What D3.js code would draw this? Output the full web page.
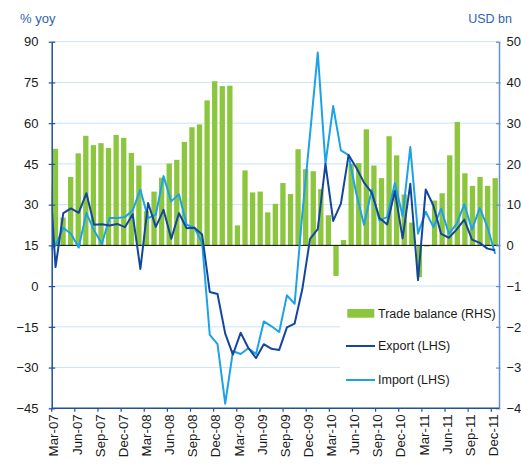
<!DOCTYPE html>
<html>
<head>
<meta charset="utf-8">
<script src="https://cdn.jsdelivr.net/npm/d3@7"></script>
<style>
body{margin:0;background:#fff;}
text{font-family:"Liberation Sans",Arial,sans-serif;}
</style>
</head>
<body>
<script>
// monthly categories, Feb-07 .. Dec-11
var months = ["Feb-07","Mar-07","Apr-07","May-07","Jun-07","Jul-07","Aug-07","Sep-07","Oct-07","Nov-07","Dec-07",
	"Jan-08","Feb-08","Mar-08","Apr-08","May-08","Jun-08","Jul-08","Aug-08","Sep-08","Oct-08","Nov-08","Dec-08",
	"Jan-09","Feb-09","Mar-09","Apr-09","May-09","Jun-09","Jul-09","Aug-09","Sep-09","Oct-09","Nov-09","Dec-09",
	"Jan-10","Feb-10","Mar-10","Apr-10","May-10","Jun-10","Jul-10","Aug-10","Sep-10","Oct-10","Nov-10","Dec-10",
	"Jan-11","Feb-11","Mar-11","Apr-11","May-11","Jun-11","Jul-11","Aug-11","Sep-11","Oct-11","Nov-11","Dec-11"];
var tickLabels = ["Mar-07","Jun-07","Sep-07","Dec-07","Mar-08","Jun-08","Sep-08","Dec-08","Mar-09","Jun-09",
	"Sep-09","Dec-09","Mar-10","Jun-10","Sep-10","Dec-10","Mar-11","Jun-11","Sep-11","Dec-11"];
// trade balance, USD bn (RHS)
var balance = [23.7,6.8,16.8,22.6,26.9,24.6,25.1,23.9,27.1,26.4,22.7,
	19.6,8.4,13.2,16.6,20.1,21.0,25.4,29.0,29.7,35.6,40.3,39.1,
	39.2,4.9,18.4,13.0,13.2,8.1,10.2,15.3,12.6,23.6,18.7,18.2,
	13.8,7.4,-7.5,1.3,20.0,20.2,28.5,19.6,16.5,26.8,22.1,12.5,
	5.6,-7.8,-0.3,11.0,12.8,22.1,30.3,17.7,14.6,16.8,14.6,16.5];
// export, % yoy (LHS)
var exportYoy = [51.7,7.0,26.9,28.6,27.0,34.2,22.6,22.8,22.3,22.9,21.7,
	26.5,6.3,30.6,21.8,28.1,17.4,26.8,21.3,21.5,19.0,-2.2,-2.9,
	-17.5,-25.2,-17.2,-22.8,-26.5,-21.4,-23.1,-23.5,-15.2,-13.8,-1.1,17.4,
	21.0,45.0,24.0,30.4,48.3,43.6,38.1,34.4,25.1,22.7,35.0,17.6,
	37.7,2.2,35.6,29.6,19.2,17.8,20.8,24.5,17.1,15.9,13.8,13.2];
// import, % yoy (LHS)
var importYoy = [12.5,15.0,21.4,19.3,14.2,26.9,20.5,15.6,25.1,25.1,25.4,
	27.9,35.5,25.0,26.3,40.5,31.2,33.8,22.6,21.5,16.0,-18.0,-21.4,
	-43.3,-24.0,-25.0,-22.9,-25.0,-13.0,-14.8,-16.9,-3.4,-6.5,26.8,56.0,
	86.0,45.0,66.3,50.0,48.2,34.0,22.6,35.4,24.2,25.4,38.0,25.8,
	51.2,19.3,27.4,21.7,28.5,19.3,22.9,30.1,20.8,28.7,21.8,11.9];

var width = 521, height = 464;
var plotL = 51.7, plotR = 499, plotT = 41.7, plotB = 408.3;
var green = "#8cc63f", darkBlue = "#14469a", lightBlue = "#1ea2e6";
var axisBlue = "#1f4f9e", axisBlueR = "#6390cc", titleBlue = "#2e63b0";

var svg = d3.select("body").append("svg")
	.attr("width", width)
	.attr("height", height);

var yL = d3.scaleLinear().domain([-45, 90]).range([plotB, plotT]);
var yR = d3.scaleLinear().domain([-40, 50]).range([plotB, plotT]);
var xBar = d3.scaleBand().domain(months).range([plotL, plotR]).paddingInner(0.3).paddingOuter(0.15);
//lines sit one slot further left than the bars (Feb-07 falls outside the plot)
var step = (plotR - plotL) / (months.length - 1);
var xLine = d3.scaleBand().domain(months).range([plotL - step, plotR]);

//grid
var gridVals = [-30, -15, 0, 30, 45, 60, 75, 90];
svg.append("g").selectAll("line")
	.data(gridVals)
	.enter().append("line")
	.attr("x1", plotL).attr("x2", plotR)
	.attr("y1", function(d){ return yL(d); })
	.attr("y2", function(d){ return yL(d); })
	.attr("stroke", "#c6e6f5")
	.attr("stroke-width", 1);

//legend background hides the grid behind it
svg.append("rect")
	.attr("x", 340).attr("y", 296)
	.attr("width", plotR - 340).attr("height", plotB - 296 - 2)
	.attr("fill", "#fff");

//bars
svg.append("g").selectAll("rect")
	.data(balance)
	.enter().append("rect")
	.attr("x", function(d, i){ return xBar(months[i]); })
	.attr("width", xBar.bandwidth())
	.attr("y", function(d){ return Math.min(yR(d), yR(0)); })
	.attr("height", function(d){ return Math.abs(yR(d) - yR(0)); })
	.attr("fill", green);

//zero line of the balance
svg.append("line")
	.attr("x1", plotL).attr("x2", plotR)
	.attr("y1", yR(0)).attr("y2", yR(0))
	.attr("stroke", "#000")
	.attr("stroke-width", 1);

svg.append("clipPath").attr("id", "clip")
	.append("rect")
	.attr("x", plotL).attr("y", plotT - 10)
	.attr("width", plotR - plotL).attr("height", plotB - plotT + 10);

var lineGen = d3.line()
	.x(function(d, i){ return xLine(months[i]) + xLine.bandwidth() / 2; })
	.y(function(d){ return yL(d); });

var lines = svg.append("g").attr("clip-path", "url(#clip)");
lines.append("path")
	.attr("d", lineGen(importYoy))
	.attr("fill", "none")
	.attr("stroke", lightBlue)
	.attr("stroke-width", 2)
	.attr("stroke-linejoin", "round");
lines.append("path")
	.attr("d", lineGen(exportYoy))
	.attr("fill", "none")
	.attr("stroke", darkBlue)
	.attr("stroke-width", 2)
	.attr("stroke-linejoin", "round");

//left axis
var gL = svg.append("g")
	.attr("transform", "translate(" + plotL + ",0)")
	.call(d3.axisLeft(yL).tickValues(d3.range(-45, 91, 15)).tickSizeOuter(0));
gL.select(".domain").attr("stroke", axisBlue).attr("stroke-width", 1.5);
gL.selectAll(".tick line").attr("x1", -3).attr("x2", 3.5).attr("stroke", axisBlue).attr("stroke-width", 1.2);
gL.selectAll(".tick text").attr("x", -13.2).attr("fill", "#1a1a1a").style("font-size", "13px")
	.style("font-family", "'Liberation Sans',Arial,sans-serif");

//right axis
var gR = svg.append("g")
	.attr("transform", "translate(" + plotR + ",0)")
	.call(d3.axisRight(yR).tickValues(d3.range(-40, 51, 10)).tickSizeOuter(0));
gR.select(".domain").attr("stroke", axisBlueR).attr("stroke-width", 1.5);
gR.selectAll(".tick line").attr("x1", -3).attr("x2", 1.5).attr("stroke", axisBlueR).attr("stroke-width", 1.2);
gR.selectAll(".tick text").attr("x", 7.5).attr("fill", "#1a1a1a").style("font-size", "13px")
	.style("font-family", "'Liberation Sans',Arial,sans-serif");

//bottom axis
var gB = svg.append("g")
	.attr("transform", "translate(0," + plotB + ")")
	.call(d3.axisBottom(xLine).tickValues(tickLabels).tickSizeOuter(0));
gB.select(".domain").remove();
gB.selectAll(".tick line")
	.attr("x1", -xLine.bandwidth() / 2).attr("x2", -xLine.bandwidth() / 2)
	.attr("y2", 3.5)
	.attr("stroke", axisBlue).attr("stroke-width", 1.2);
gB.selectAll(".tick text")
	.attr("transform", "rotate(-90)")
	.attr("text-anchor", "end")
	.attr("x", -6).attr("y", -1.8).attr("dy", "0.35em")
	.attr("fill", "#1a1a1a")
	.style("font-size", "13.3px")
	.style("font-family", "'Liberation Sans',Arial,sans-serif");
svg.append("line")
	.attr("x1", plotL).attr("x2", plotR)
	.attr("y1", plotB).attr("y2", plotB)
	.attr("stroke", axisBlue).attr("stroke-width", 1.5);

//axis titles
svg.append("text").attr("x", 20).attr("y", 23).attr("fill", titleBlue)
	.style("font-size", "13px").text("% yoy");
svg.append("text").attr("x", 512).attr("y", 22.5).attr("text-anchor", "end").attr("fill", titleBlue)
	.style("font-size", "12.5px").text("USD bn");

//legend
var legend = svg.append("g").style("font-size", "12.5px");
legend.append("rect").attr("x", 347.3).attr("y", 309).attr("width", 27).attr("height", 8.7).attr("fill", green);
legend.append("text").attr("x", 378).attr("y", 313.3).attr("dy", "0.35em").attr("fill", "#1a1a1a").text("Trade balance (RHS)");
legend.append("line").attr("x1", 346).attr("x2", 375).attr("y1", 346).attr("y2", 346)
	.attr("stroke", darkBlue).attr("stroke-width", 2);
legend.append("text").attr("x", 378).attr("y", 346).attr("dy", "0.35em").attr("fill", "#1a1a1a").text("Export (LHS)");
legend.append("line").attr("x1", 346).attr("x2", 375).attr("y1", 380).attr("y2", 380)
	.attr("stroke", lightBlue).attr("stroke-width", 2);
legend.append("text").attr("x", 378).attr("y", 380).attr("dy", "0.35em").attr("fill", "#1a1a1a").text("Import (LHS)");
</script>
</body>
</html>
